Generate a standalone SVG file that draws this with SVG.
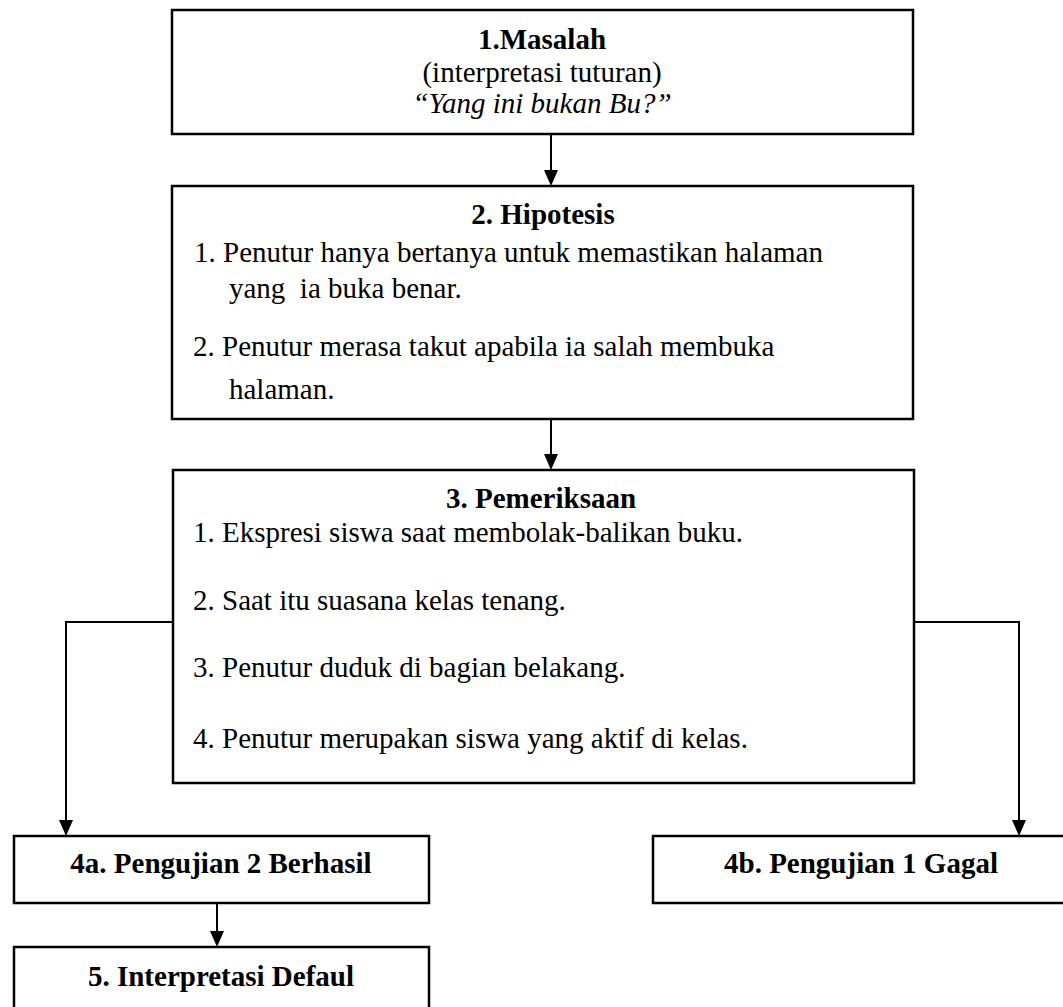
<svg xmlns="http://www.w3.org/2000/svg" width="1063" height="1007" viewBox="0 0 1063 1007">
<style>
.box{fill:#fff;stroke:#000;stroke-width:2.5}
.t{font-family:"Liberation Serif","Times New Roman",serif;font-size:29px;fill:#000}
.b{font-weight:bold}
.c{text-anchor:middle}
.i{font-style:italic}
.ln{fill:none;stroke:#000;stroke-width:2}
.ah{fill:#000}
</style>
<rect width="1063" height="1007" fill="#fff"/>
<g id="connectors">
<path class="ln" d="M551,134 V172"/>
<path class="ah" d="M544,170 L558,170 L551,186 Z"/>
<path class="ln" d="M551,419 V456"/>
<path class="ah" d="M544,454 L558,454 L551,470 Z"/>
<path class="ln" d="M173,622 H66 V822"/>
<path class="ah" d="M59,820 L73,820 L66,836 Z"/>
<path class="ln" d="M913,622 H1019 V822"/>
<path class="ah" d="M1012,820 L1026,820 L1019,836 Z"/>
<path class="ln" d="M217,903 V933"/>
<path class="ah" d="M210,931 L224,931 L217,947 Z"/>
</g>
<g id="node1">
<rect class="box" x="172" y="10" width="741" height="124"/>
<text class="t b c" x="542" y="49">1.Masalah</text>
<text class="t c" x="542" y="82">(interpretasi tuturan)</text>
<text class="t c i" x="542" y="113">“Yang ini bukan Bu?”</text>
</g>
<g id="node2">
<rect class="box" x="172" y="186" width="741" height="233"/>
<text class="t b c" x="543" y="224">2. Hipotesis</text>
<text class="t" x="194" y="262">1. Penutur hanya bertanya untuk memastikan halaman</text>
<text class="t" x="229" y="298" xml:space="preserve">yang  ia buka benar.</text>
<text class="t" x="193" y="356">2. Penutur merasa takut apabila ia salah membuka</text>
<text class="t" x="229" y="399">halaman.</text>
</g>
<g id="node3">
<rect class="box" x="173" y="470" width="741" height="313"/>
<text class="t b c" x="541" y="508">3. Pemeriksaan</text>
<text class="t" x="193" y="542">1. Ekspresi siswa saat membolak-balikan buku.</text>
<text class="t" x="193" y="610">2. Saat itu suasana kelas tenang.</text>
<text class="t" x="193" y="677">3. Penutur duduk di bagian belakang.</text>
<text class="t" x="193" y="748">4. Penutur merupakan siswa yang aktif di kelas.</text>
</g>
<g id="node4a">
<rect class="box" x="14" y="836" width="415" height="67"/>
<text class="t b c" x="221" y="873">4a. Pengujian 2 Berhasil</text>
</g>
<g id="node4b">
<rect class="box" x="653" y="836" width="416" height="67"/>
<text class="t b c" x="861" y="873">4b. Pengujian 1 Gagal</text>
</g>
<g id="node5">
<rect class="box" x="14" y="947" width="415" height="70"/>
<text class="t b c" x="221" y="986">5. Interpretasi Defaul</text>
</g>
</svg>
